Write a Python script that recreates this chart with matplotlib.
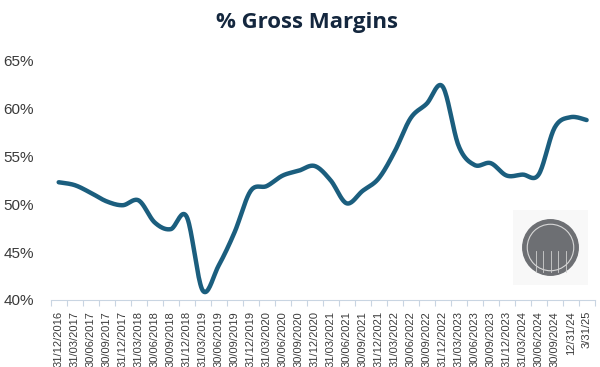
import matplotlib
matplotlib.use("Agg")
import matplotlib.pyplot as plt
from matplotlib.patches import Circle, Rectangle
import numpy as np

quarters = ["31/12/2016", "31/03/2017", "30/06/2017", "30/09/2017", "31/12/2017",
            "31/03/2018", "30/06/2018", "30/09/2018", "31/12/2018", "31/03/2019",
            "30/06/2019", "30/09/2019", "31/12/2019", "31/03/2020", "30/06/2020",
            "30/09/2020", "31/12/2020", "31/03/2021", "30/06/2021", "30/09/2021",
            "31/12/2021", "31/03/2022", "30/06/2022", "30/09/2022", "31/12/2022",
            "31/03/2023", "30/06/2023", "30/09/2023", "31/12/2023", "31/03/2024",
            "30/06/2024", "30/09/2024", "12/31/24", "3/31/25"]
gross_margin = [52.3, 52.0, 51.2, 50.3, 49.9, 50.4, 48.1, 47.4, 48.7, 41.0,
                43.6, 47.1, 51.4, 51.9, 53.0, 53.5, 54.0, 52.5, 50.1, 51.4,
                52.7, 55.5, 59.0, 60.5, 62.3, 56.1, 54.1, 54.3, 53.0, 53.1,
                53.1, 58.0, 59.1, 58.8]
yticks = [40, 45, 50, 55, 60, 65]


def smooth(xs, ys, n=20, t=0.5):
    # excel-ish smoothed line (catmull-rom)
    xs = np.asarray(xs, float)
    ys = np.asarray(ys, float)
    px = np.concatenate([[xs[0]], xs, [xs[-1]]])
    py = np.concatenate([[ys[0]], ys, [ys[-1]]])
    ox, oy = [], []
    for i in range(1, len(px) - 2):
        p0, p1, p2, p3 = (np.array([px[j], py[j]]) for j in range(i - 1, i + 3))
        m1 = t * (p2 - p0)
        m2 = t * (p3 - p1)
        s = np.linspace(0, 1, n, endpoint=False)[:, None]
        h00 = 2 * s**3 - 3 * s**2 + 1
        h10 = s**3 - 2 * s**2 + s
        h01 = -2 * s**3 + 3 * s**2
        h11 = s**3 - s**2
        pts = h00 * p1 + h10 * m1 + h01 * p2 + h11 * m2
        ox.extend(pts[:, 0])
        oy.extend(pts[:, 1])
    ox.append(xs[-1])
    oy.append(ys[-1])
    return np.array(ox), np.array(oy)


fig = plt.figure(figsize=(6, 3.67), dpi=100)
ax = fig.add_axes([0.0845, 0.1826, 0.9065, 0.652])

x = np.arange(len(quarters))
sx, sy = smooth(x, gross_margin)
ax.plot(sx, sy, color="#1b5e7e", lw=3.2, solid_capstyle="round")

ax.set_xlim(-0.5, len(quarters) - 0.5)
ax.set_ylim(40, 65)
ax.set_yticks(yticks)
ax.set_yticklabels([f"{v}%" for v in yticks], fontsize=11, color="#3a3a3a",
                   family="Liberation Sans")
ax.tick_params(axis="y", length=0, pad=12)

ax.set_xticks(x)
ax.set_xticklabels(quarters, rotation=90, fontsize=8, color="#3a3a3a",
                   family="Liberation Sans", va="top")
ax.set_xticks(np.arange(len(quarters) + 1) - 0.5, minor=True)
ax.tick_params(axis="x", which="major", length=0, pad=8)
ax.tick_params(axis="x", which="minor", length=4, color="#c9d5e2", width=0.8)

for s in ["top", "right", "left"]:
    ax.spines[s].set_visible(False)
ax.spines["bottom"].set_color("#c9d5e2")
ax.spines["bottom"].set_linewidth(0.8)

fig.text(0.512, 0.94, "% Gross Margins", ha="center", va="center", fontsize=16,
         fontweight="bold", color="#14273e", family="Open Sans")

# logo placeholder
lg = fig.add_axes([513 / 600, 1 - 285 / 367, 75 / 600, 75 / 367])
lg.set_xlim(0, 1)
lg.set_ylim(0, 1)
lg.axis("off")
lg.add_patch(Rectangle((0, 0), 1, 1, color="#f8f8f8"))
lg.add_patch(Circle((0.5, 0.5), 0.37, color="#6d6f73"))
lg.add_patch(Circle((0.5, 0.5), 0.31, fill=False, ec="#d8d8d8", lw=0.8))
for k in range(5):
    lg.plot([0.3 + 0.1 * k, 0.3 + 0.1 * k], [0.18, 0.45], color="#d0d0d0", lw=0.6)

fig.savefig("out.png", dpi=100)
